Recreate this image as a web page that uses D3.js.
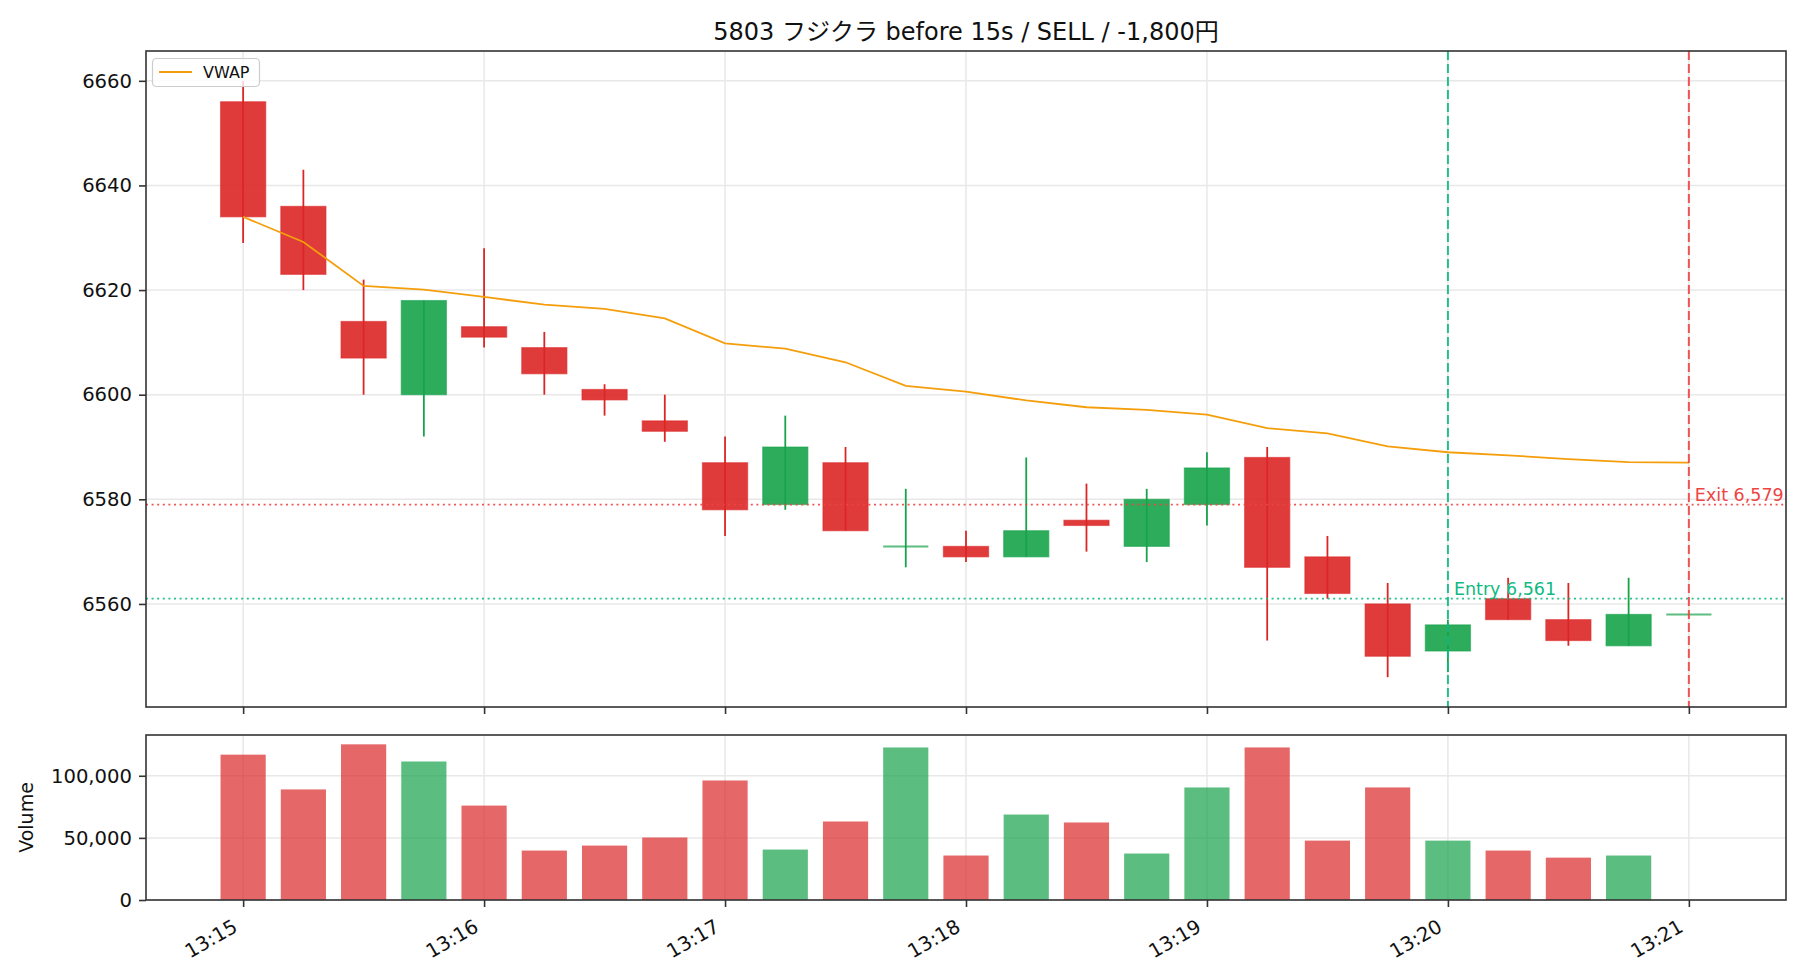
<!DOCTYPE html>
<html>
<head>
<meta charset="utf-8">
<script src="https://cdn.jsdelivr.net/npm/d3@7"></script>
<style>
  body { margin: 0; background: #fff; }
  svg { font-family: "DejaVu Sans", "Noto Sans CJK JP", sans-serif; }
</style>
</head>
<body>
<svg id="chart" width="1820" height="980"></svg>
<script>
// 15s candles, 5803 フジクラ
const times  = ['13:15:00','13:15:15','13:15:30','13:15:45','13:16:00','13:16:15','13:16:30','13:16:45',
                '13:17:00','13:17:15','13:17:30','13:17:45','13:18:00','13:18:15','13:18:30','13:18:45',
                '13:19:00','13:19:15','13:19:30','13:19:45','13:20:00','13:20:15','13:20:30','13:20:45','13:21:00'];
const open   = [6656,6636,6614,6600,6613,6609,6601,6595,6587,6579,6587,6571,6571,6569,6576,6571,6579,6588,6569,6560,6551,6561,6557,6552,6558];
const close  = [6634,6623,6607,6618,6611,6604,6599,6593,6578,6590,6574,6571,6569,6574,6575,6580,6586,6567,6562,6550,6556,6557,6553,6558,6558];
const high   = [6660,6643,6622,6618,6628,6612,6602,6600,6592,6596,6590,6582,6574,6588,6583,6582,6589,6590,6573,6564,6557,6565,6564,6565,6558];
const low    = [6629,6620,6600,6592,6609,6600,6596,6591,6573,6578,6574,6567,6568,6569,6570,6568,6575,6553,6561,6546,6547,6557,6552,6552,6558];
const volume = [117000,89000,125300,111500,76000,39800,43800,50300,96200,40600,63200,122800,35800,
                68800,62400,37400,90600,122800,47800,90600,47800,39800,34100,35800,0];
const vwap   = [6634.0,6629.2,6620.8,6620.1,6618.7,6617.2,6616.4,6614.6,6609.8,6608.8,6606.2,6601.7,6600.6,
                6598.9,6597.6,6597.1,6596.2,6593.6,6592.6,6590.1,6589.0,6588.4,6587.7,6587.1,6587.0];

const entryTime = '13:20:00', entryPrice = 6561;
const exitTime  = '13:21:00', exitPrice  = 6579;
const title = '5803 フジクラ before 15s / SELL / -1,800円';

const RED = '#dc2626', GREEN = '#16a34a';
const ENTRY_C = '#10b981', EXIT_C = '#ef4444';
const AXIS_C = '#333333', GRID_C = '#e8e8e8';
const FONT = '"DejaVu Sans", "Noto Sans CJK JP", sans-serif';

const L = 146, R = 1786;
const priceBox = { top: 51, bottom: 707 };
const volBox   = { top: 735, bottom: 900 };

const parse = d3.timeParse('%H:%M:%S');
const rows = times.map((s, i) => ({
  t: parse(s), o: open[i], c: close[i], h: high[i], l: low[i], v: volume[i], vw: vwap[i],
  up: close[i] >= open[i]
}));

const STEP = 15000, BW = STEP * 0.75;   // candle width in ms
const t0 = +rows[0].t - BW / 2, t1 = +rows[rows.length - 1].t + BW / 2;
const xm = (t1 - t0) * 0.05;
const x = d3.scaleTime().domain([new Date(t0 - xm), new Date(t1 + xm)]).range([L, R]);
const bw = x(new Date(t0 + BW)) - x(new Date(t0));

const lo = d3.min(rows, d => d.l), hi = d3.max(rows, d => d.h);
const ym = (hi - lo) * 0.05;
const y = d3.scaleLinear().domain([lo - ym, hi + ym]).range([priceBox.bottom, priceBox.top]);
const vy = d3.scaleLinear().domain([0, d3.max(rows, d => d.v) * 1.06]).range([volBox.bottom, volBox.top]);

const svg = d3.select('#chart');
const xTicks = x.ticks(d3.timeMinute.every(1));

// title
svg.append('text').attr('x', (L + R) / 2).attr('y', 40)
  .attr('text-anchor', 'middle').attr('font-size', 24).attr('fill', '#111').text(title);

// ---- grids
function grid(box, yScale, ticks) {
  const g = svg.append('g').attr('stroke', GRID_C).attr('stroke-width', 1.5);
  g.selectAll('line.v').data(xTicks).join('line')
    .attr('x1', d => x(d)).attr('x2', d => x(d)).attr('y1', box.top).attr('y2', box.bottom);
  g.selectAll('line.h').data(ticks).join('line')
    .attr('x1', L).attr('x2', R).attr('y1', d => yScale(d)).attr('y2', d => yScale(d));
}
const pTicks = y.ticks(6);
const vTicks = vy.ticks(3);
grid(priceBox, y, pTicks);
grid(volBox, vy, vTicks);

// ---- candles
const cg = svg.append('g');
cg.selectAll('line.wick').data(rows).join('line')
  .attr('x1', d => x(d.t)).attr('x2', d => x(d.t))
  .attr('y1', d => y(d.h)).attr('y2', d => y(d.l))
  .attr('stroke', d => d.up ? GREEN : RED).attr('stroke-width', 1.8);

cg.selectAll('rect.body').data(rows.filter(d => d.o !== d.c)).join('rect')
  .attr('x', d => x(d.t) - bw / 2).attr('width', bw)
  .attr('y', d => y(Math.max(d.o, d.c)))
  .attr('height', d => Math.abs(y(d.o) - y(d.c)))
  .attr('fill', d => d.up ? GREEN : RED).attr('fill-opacity', 0.9)
  .attr('stroke', d => d.up ? GREEN : RED).attr('stroke-opacity', 0.55).attr('stroke-width', 1.2);

cg.selectAll('line.doji').data(rows.filter(d => d.o === d.c)).join('line')
  .attr('x1', d => x(d.t) - bw / 2).attr('x2', d => x(d.t) + bw / 2)
  .attr('y1', d => y(d.c)).attr('y2', d => y(d.c))
  .attr('stroke', d => d.up ? GREEN : RED).attr('stroke-opacity', 0.7).attr('stroke-width', 2);

// VWAP
svg.append('path').datum(rows)
  .attr('d', d3.line().x(d => x(d.t)).y(d => y(d.vw)))
  .attr('fill', 'none').attr('stroke', '#f59e0b').attr('stroke-width', 1.8);

// entry / exit levels
function level(price, color) {
  svg.append('line').attr('x1', L).attr('x2', R).attr('y1', y(price)).attr('y2', y(price))
    .attr('stroke', color).attr('stroke-width', 1.8).attr('stroke-dasharray', '2,3.6').attr('opacity', 0.9);
}
function marker(tm, color) {
  const xx = x(parse(tm));
  svg.append('line').attr('x1', xx).attr('x2', xx).attr('y1', priceBox.top).attr('y2', priceBox.bottom)
    .attr('stroke', color).attr('stroke-width', 2).attr('stroke-dasharray', '9,4').attr('opacity', 0.9);
}
level(entryPrice, ENTRY_C);
level(exitPrice, EXIT_C);
marker(entryTime, ENTRY_C);
marker(exitTime, EXIT_C);

const fmt = d3.format(',');
svg.append('text').attr('x', x(parse(entryTime)) + 6).attr('y', y(entryPrice) - 4)
  .attr('font-size', 17.5).attr('fill', ENTRY_C).text('Entry ' + fmt(entryPrice));
svg.append('text').attr('x', x(parse(exitTime)) + 6).attr('y', y(exitPrice) - 4)
  .attr('font-size', 17.5).attr('fill', EXIT_C).text('Exit ' + fmt(exitPrice));

// legend
const lg = svg.append('g');
lg.append('rect').attr('x', 152.5).attr('y', 58.5).attr('width', 107).attr('height', 28).attr('rx', 4)
  .attr('fill', '#fff').attr('fill-opacity', 0.8).attr('stroke', '#cccccc').attr('stroke-width', 1.2);
lg.append('line').attr('x1', 159).attr('x2', 192).attr('y1', 72).attr('y2', 72)
  .attr('stroke', '#f59e0b').attr('stroke-width', 1.8);
lg.append('text').attr('x', 203).attr('y', 78).attr('font-size', 16).attr('fill', '#111').text('VWAP');

// ---- volume bars
svg.append('g').selectAll('rect').data(rows.filter(d => d.v > 0)).join('rect')
  .attr('x', d => x(d.t) - bw / 2).attr('width', bw)
  .attr('y', d => vy(d.v)).attr('height', d => vy(0) - vy(d.v))
  .attr('fill', d => d.up ? GREEN : RED).attr('fill-opacity', 0.7);

// ---- axes
function styleAxis(g) {
  g.attr('font-family', FONT).attr('font-size', 19.6);
  g.select('.domain').remove();
  g.selectAll('.tick line').attr('stroke', AXIS_C).attr('stroke-width', 1.6);
  g.selectAll('.tick text').attr('fill', '#111');
}
svg.append('g').attr('transform', `translate(${L},0)`)
  .call(d3.axisLeft(y).tickValues(pTicks).tickSize(7).tickPadding(7).tickFormat(d3.format('d')))
  .call(styleAxis);
svg.append('g').attr('transform', `translate(0,${priceBox.bottom})`)
  .call(d3.axisBottom(x).tickValues(xTicks).tickSize(7).tickFormat(''))
  .call(styleAxis);
svg.append('g').attr('transform', `translate(${L},0)`)
  .call(d3.axisLeft(vy).tickValues(vTicks).tickSize(7).tickPadding(7).tickFormat(fmt))
  .call(styleAxis);
const xa = svg.append('g').attr('transform', `translate(0,${volBox.bottom})`)
  .call(d3.axisBottom(x).tickValues(xTicks).tickSize(7).tickFormat(d3.timeFormat('%H:%M')))
  .call(styleAxis);
xa.selectAll('.tick text')
  .attr('text-anchor', 'end').attr('dy', null).attr('y', null)
  .attr('dominant-baseline', 'hanging')
  .attr('transform', 'translate(-12,18) rotate(-30)');

svg.append('text').attr('transform', `translate(33,${(volBox.top + volBox.bottom) / 2}) rotate(-90)`)
  .attr('text-anchor', 'middle').attr('font-size', 19).attr('fill', '#111').text('Volume');

// frames
[priceBox, volBox].forEach(b => {
  svg.append('rect').attr('x', L).attr('y', b.top).attr('width', R - L).attr('height', b.bottom - b.top)
    .attr('fill', 'none').attr('stroke', AXIS_C).attr('stroke-width', 1.6);
});
</script>
</body>
</html>
